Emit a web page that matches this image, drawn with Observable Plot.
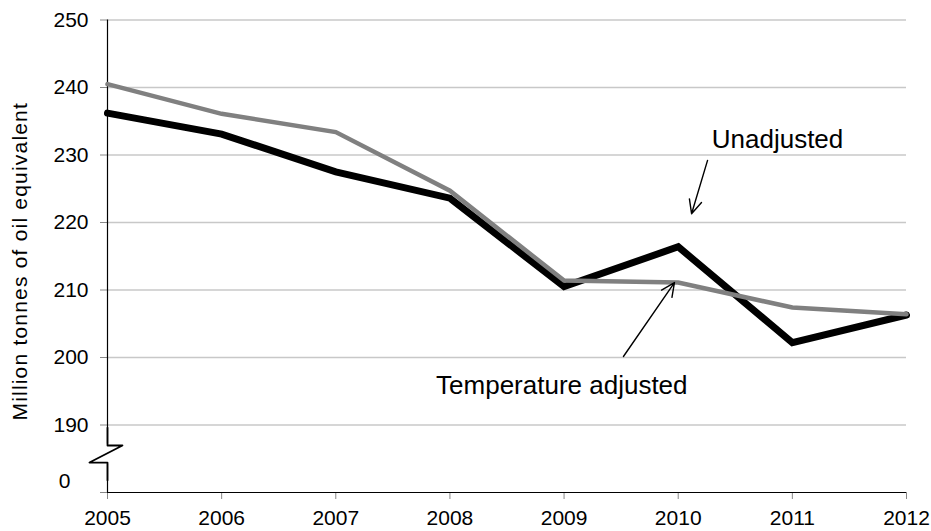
<!DOCTYPE html>
<html>
<head>
<meta charset="utf-8">
<script src="https://cdn.jsdelivr.net/npm/d3@7"></script>
<script src="https://cdn.jsdelivr.net/npm/@observablehq/plot@0.6"></script>
<style>
  html, body { margin: 0; padding: 0; background: #fff; }
  #chart { width: 931px; height: 531px; }
  svg { font-family: "Liberation Sans", Arial, Helvetica, sans-serif; }
</style>
</head>
<body>
<div id="chart"></div>
<script>
// Data
const years = [2005, 2006, 2007, 2008, 2009, 2010, 2011, 2012];
const unadjusted = [236.2, 233.1, 227.5, 223.6, 210.5, 216.4, 202.2, 206.3];
const temperatureAdjusted = [240.5, 236.1, 233.4, 224.7, 211.4, 211.1, 207.4, 206.4];
const yTicks = [180, 190, 200, 210, 220, 230, 240, 250];
const yTickLabels = ["", "190", "200", "210", "220", "230", "240", "250"];
const gridValues = [190, 200, 210, 220, 230, 240, 250];
const yLabel = "Million tonnes of oil equivalent";

// Annotations (data units)
const annotationTexts = [
  {label: "Unadjusted", x: 2010.87, y: 232.3},
  {label: "Temperature adjusted", x: 2008.98, y: 195.9}
];
const annotationArrows = [
  {x1: 2010.257, y1: 229.2, x2: 2010.117, y2: 221.3},
  {x1: 2009.52, y1: 200.15, x2: 2009.967, y2: 211.1}
];
// Axis break symbol (data units)
const breakZig = [
  {x: 2005, y: 189.6}, {x: 2005, y: 186.96}, {x: 2005.131, y: 186.96},
  {x: 2004.842, y: 184.44}, {x: 2005, y: 184.44}, {x: 2005, y: 181.8}
];
const zeroLabel = [{label: "0", y: 181.6}];

const rows = [];
years.forEach((yr, i) => {
  rows.push({year: yr, value: unadjusted[i], series: "Unadjusted"});
});
years.forEach((yr, i) => {
  rows.push({year: yr, value: temperatureAdjusted[i], series: "Temperature adjusted"});
});

const FONT = "\"Liberation Sans\", Arial, Helvetica, sans-serif";

const chart = Plot.plot({
  width: 931,
  height: 531,
  marginLeft: 107,
  marginRight: 25,
  marginTop: 19.5,
  marginBottom: 39,
  style: {fontFamily: FONT, background: "#fff", color: "black", overflow: "visible"},
  x: {domain: [2005, 2012]},
  y: {domain: [180, 250]},
  marks: [
    Plot.gridY(gridValues, {stroke: "#c8c8c8", strokeOpacity: 1, strokeWidth: 1.3}),
    Plot.axisY(yTicks, {
      tickSize: 7, tickPadding: 12, fontSize: 21, stroke: "#888", fill: "black",
      tickFormat: (d) => yTickLabels[yTicks.indexOf(d)], label: null
    }),
    Plot.axisX(years, {
      tickSize: 7, tickPadding: 11, fontSize: 21, stroke: "#888", fill: "black",
      tickFormat: (d) => String(d), label: null
    }),
    Plot.text(zeroLabel, {frameAnchor: "left", y: "y", text: "label", dx: -37, textAnchor: "end", fontSize: 21, fill: "black"}),
    Plot.ruleY([180], {x1: 2005, x2: 2012, stroke: "black", strokeWidth: 1.2}),
    Plot.ruleX([2005], {y1: 187.2, y2: 250, stroke: "black", strokeWidth: 1.2}),
    Plot.ruleX([2005], {y1: 180, y2: 184.2, stroke: "black", strokeWidth: 1.2}),
    Plot.line(breakZig, {x: "x", y: "y", stroke: "black", strokeWidth: 1.8, curve: "linear"}),
    Plot.line(rows.filter(d => d.series === "Unadjusted"), {
      x: "year", y: "value", stroke: "black", strokeWidth: 7, strokeLinejoin: "miter", strokeMiterlimit: 10
    }),
    Plot.line(rows.filter(d => d.series === "Temperature adjusted"), {
      x: "year", y: "value", stroke: "#808080", strokeWidth: 4.5, strokeLinejoin: "miter", strokeMiterlimit: 10
    }),
    Plot.arrow(annotationArrows, {
      x1: "x1", y1: "y1", x2: "x2", y2: "y2",
      stroke: "black", strokeWidth: 1.4, headLength: 16, headAngle: 50
    }),
    Plot.text(annotationTexts, {x: "x", y: "y", text: "label", fontSize: 26, fill: "black"}),
    Plot.text([yLabel], {
      frameAnchor: "left", textAnchor: "middle", lineAnchor: "middle",
      dx: -87, dy: 5, rotate: -90, fontSize: 21, fill: "black"
    })
  ]
});

document.getElementById("chart").appendChild(chart);
// letter spacing for the y-axis label to match the reference's wide setting
chart.querySelectorAll("text").forEach(t => {
  if (t.textContent === yLabel) t.setAttribute("letter-spacing", "1.2");
});
</script>
</body>
</html>
